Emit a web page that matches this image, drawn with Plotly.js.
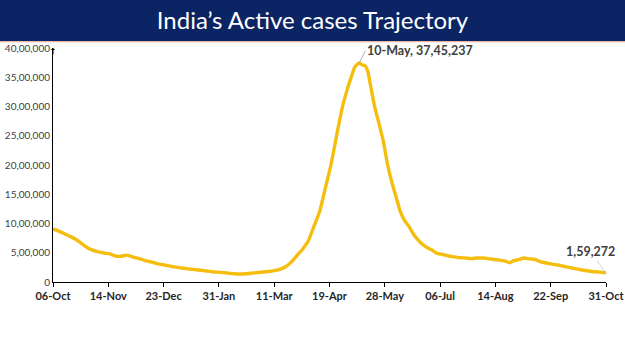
<!DOCTYPE html>
<html>
<head>
<meta charset="utf-8">
<script src="https://cdn.plot.ly/plotly-3.0.1.min.js"></script>
<style>html,body{margin:0;padding:0;background:#fff;}#chart{width:625px;height:351px;}</style>
</head>
<body>
<div id="chart"></div>
<script>
const chartTitle = "India’s Active cases Trajectory";
const dates = [
"2020-10-06","2020-10-10","2020-10-14","2020-10-18","2020-10-22","2020-10-26","2020-10-30",
"2020-11-03","2020-11-07","2020-11-11","2020-11-15","2020-11-19","2020-11-23","2020-11-27",
"2020-12-01","2020-12-05","2020-12-09","2020-12-13","2020-12-17","2020-12-21","2020-12-25","2020-12-29",
"2021-01-02","2021-01-06","2021-01-10","2021-01-14","2021-01-18","2021-01-22","2021-01-26","2021-01-30",
"2021-02-03","2021-02-07","2021-02-11","2021-02-15","2021-02-19","2021-02-23","2021-02-27",
"2021-03-03","2021-03-07","2021-03-11","2021-03-15","2021-03-19","2021-03-23","2021-03-27","2021-03-31",
"2021-04-04","2021-04-08","2021-04-12","2021-04-16","2021-04-20","2021-04-24","2021-04-28",
"2021-05-01","2021-05-04","2021-05-07","2021-05-09","2021-05-10","2021-05-12","2021-05-14","2021-05-16","2021-05-18","2021-05-21","2021-05-24","2021-05-27","2021-05-30",
"2021-06-02","2021-06-05","2021-06-08","2021-06-11","2021-06-14","2021-06-18","2021-06-22","2021-06-26","2021-06-30",
"2021-07-04","2021-07-08","2021-07-12","2021-07-16","2021-07-20","2021-07-24","2021-07-28",
"2021-08-01","2021-08-05","2021-08-09","2021-08-13","2021-08-17","2021-08-21","2021-08-24","2021-08-27","2021-08-31",
"2021-09-03","2021-09-07","2021-09-11","2021-09-15","2021-09-19","2021-09-23","2021-09-27",
"2021-10-01","2021-10-05","2021-10-09","2021-10-13","2021-10-17","2021-10-21","2021-10-25","2021-10-29","2021-10-31"
];
const activeCases = [
907000,870000,826000,780000,730000,660000,590000,
545000,515000,495000,480000,445000,440000,460000,
430000,405000,375000,350000,325000,300000,285000,265000,
250000,235000,222000,212000,200000,188000,176000,168000,
160000,150000,140000,137000,140000,150000,162000,
170000,180000,195000,215000,260000,340000,450000,560000,
700000,950000,1200000,1600000,2000000,2500000,2980000,
3250000,3480000,3680000,3730000,3745237,3710000,3700000,3600000,3350000,2980000,2700000,2400000,2000000,
1700000,1450000,1200000,1050000,950000,790000,680000,600000,550000,
490000,470000,445000,430000,415000,410000,400000,
410000,410000,400000,385000,375000,355000,330000,365000,385000,
410000,395000,385000,345000,325000,305000,290000,
270000,250000,230000,210000,195000,180000,172000,162000,159272
];
const yTickVals = [0,500000,1000000,1500000,2000000,2500000,3000000,3500000,4000000];
const yTickText = ["0","5,00,000","10,00,000","15,00,000","20,00,000","25,00,000","30,00,000","35,00,000","40,00,000"];
const peakDate = "2021-05-10", peakValue = 3745237, peakLabel = "10-May, 37,45,237";
const lastDate = "2021-10-31", lastValue = 159272, lastLabel = "1,59,272";
const xStart = "2020-10-06", xEnd = "2021-10-31";

const font = "Lato, 'Open Sans', sans-serif";
const trace = {
  x: dates, y: activeCases, type: "scatter", mode: "lines",
  line: {color: "#F5BE0F", width: 3.4, shape: "spline", smoothing: 0.6},
  hoverinfo: "skip"
};
const layout = {
  width: 625, height: 351,
  margin: {l: 53, r: 19, t: 48, b: 69},
  paper_bgcolor: "#ffffff", plot_bgcolor: "#ffffff",
  showlegend: false,
  title: {text: chartTitle, font: {family: "'Gill Sans', Lato, 'Open Sans', sans-serif", size: 24, color: "#ffffff"},
          x: 0.5, xref: "container", xanchor: "center", y: 0.942, yref: "container", yanchor: "middle"},
  xaxis: {
    type: "date", range: [xStart, xEnd], tick0: xStart, dtick: 39 * 86400000,
    tickformat: "%d-%b", showgrid: false, zeroline: false,
    showline: true, linecolor: "#000", linewidth: 1,
    ticks: "outside", ticklen: 4, tickcolor: "#000",
    tickfont: {family: font, size: 11, color: "#262626", weight: "bold"},
    fixedrange: true
  },
  yaxis: {
    range: [0, 4000000], tickvals: yTickVals, ticktext: yTickText,
    showgrid: false, zeroline: false, showline: true, linecolor: "#000", linewidth: 1,
    ticks: "",
    tickfont: {family: font, size: 10, color: "#404040"},
    fixedrange: true
  },
  shapes: [
    {type: "rect", xref: "paper", yref: "paper", x0: -0.2, x1: 1.2, y0: 1.03, y1: 1.21, fillcolor: "#0B2463", line: {width: 0}, layer: "above"},
    {type: "rect", xref: "paper", yref: "paper", x0: -0.2, x1: 1.2, y0: 1.025, y1: 1.03, fillcolor: "#E9B4A2", line: {width: 0}, layer: "above"}
  ],
  annotations: [
    {x: peakDate, y: peakValue, xref: "x", yref: "y", text: peakLabel, showarrow: true,
     arrowhead: 0, arrowwidth: 0.8, arrowcolor: "#A0A0A0", ax: 6, ay: -12, xanchor: "left", yanchor: "middle",
     font: {family: font, size: 12.5, color: "#404040", weight: "bold"}},
    {x: lastDate, y: lastValue, xref: "x", yref: "y", text: lastLabel, showarrow: true,
     arrowhead: 0, arrowwidth: 0.8, arrowcolor: "#C8C8C8", ax: -16, ay: -21,
     font: {family: font, size: 12.5, color: "#404040", weight: "bold"}},
    {x: 0, y: 1, xref: "paper", yref: "paper", text: "", showarrow: true,
     arrowhead: 1, arrowsize: 0.7, arrowwidth: 1, arrowcolor: "#000", ax: 0, ay: 8}
  ]
};
Plotly.newPlot("chart", [trace], layout, {displayModeBar: false, staticPlot: true});
</script>
</body>
</html>
